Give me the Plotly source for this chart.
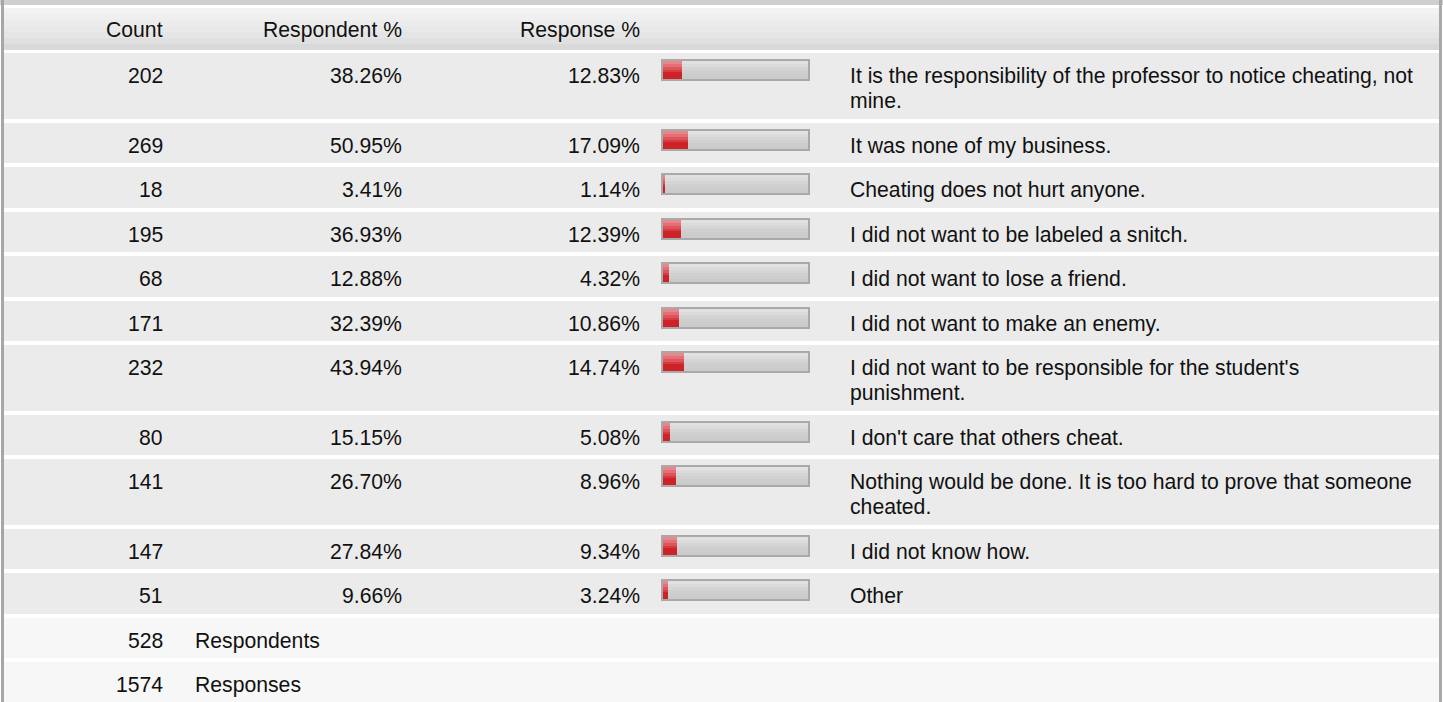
import plotly.graph_objects as go

# Данные таблицы
counts = [202, 269, 18, 195, 68, 171, 232, 80, 141, 147, 51]
respondent_pct = [38.26, 50.95, 3.41, 36.93, 12.88, 32.39, 43.94, 15.15, 26.70, 27.84, 9.66]
response_pct = [12.83, 17.09, 1.14, 12.39, 4.32, 10.86, 14.74, 5.08, 8.96, 9.34, 3.24]
labels = [
    "It is the responsibility of the professor to notice cheating, not\nmine.",
    "It was none of my business.",
    "Cheating does not hurt anyone.",
    "I did not want to be labeled a snitch.",
    "I did not want to lose a friend.",
    "I did not want to make an enemy.",
    "I did not want to be responsible for the student's\npunishment.",
    "I don't care that others cheat.",
    "Nothing would be done. It is too hard to prove that someone\ncheated.",
    "I did not know how.",
    "Other",
]
headers = ["Count", "Respondent %", "Response %"]
total_values = [528, 1574]
total_names = ["Respondents", "Responses"]

W, H = 1443, 702
FONT = dict(family="Arial, Liberation Sans, sans-serif", size=21.2, color="#111111")

# Геометрия строк (в пикселях, целые значения — без швов)
pos = [53.0]
for lab in labels + total_names:
    pos.append(pos[-1] + (69.5 if "\n" in lab else 44.5))
pos = [int(p + 0.5) for p in pos]
row_tops = pos[:len(labels)]
total_tops = pos[len(labels):len(labels) + 2]
row_heights = [pos[i + 1] - pos[i] - 4 for i in range(len(labels) + 2)]

shapes = []
annotations = []

def rect(x0, y0, x1, y1, color):
    shapes.append(dict(type="rect", xref="x", yref="y", x0=x0, x1=x1, y0=y0, y1=y1,
                       fillcolor=color, line=dict(width=0), layer="below"))

def text(x, y, s, anchor="right"):
    annotations.append(dict(x=x, y=y, xref="x", yref="y", text=s, showarrow=False,
                            xanchor=anchor, yanchor="middle", font=FONT))

# Рамка и шапка
rect(0, 0, W, 5, "#cfcfcf")
header_cols = ["#f2f2f2", "#efefef", "#ececec", "#e9e9e9", "#e5e5e5", "#e0e0e0", "#d9d9d9"]
for i, c in enumerate(header_cols):
    rect(4, 8 + i * 6, 1439, 8 + (i + 1) * 6, c)
for x_r, h in zip([165, 404, 642], headers):
    text(x_r, 29.5, h)

# Строки ответов
track_cols = ["#e1e1e1", "#dbdbdb", "#d5d5d5", "#d0d0d0", "#cdcdcd", "#cbcbcb"]
for i, top in enumerate(row_tops):
    rect(4, top, 1439, top + row_heights[i], "#ebebeb")
    text(165, top + 22.5, str(counts[i]))
    text(404, top + 22.5, f"{respondent_pct[i]:.2f}%")
    text(642, top + 22.5, f"{response_pct[i]:.2f}%")
    for j, line in enumerate(labels[i].split("\n")):
        text(848, top + 22.5 + j * 25, line, anchor="left")
    # серая шкала
    rect(661, top + 6, 810, top + 28, "#a9a9a9")
    for k, c in enumerate(track_cols):
        rect(663, top + 8 + k * 3, 808, top + 8 + (k + 1) * 3, c)

# Итоги
for k, (top, v, n) in enumerate(zip(total_tops, total_values, total_names)):
    rect(4, top, 1439, top + row_heights[len(labels) + k], "#f7f7f7")
    text(165, top + 22.5, str(v))
    text(193, top + 22.5, n, anchor="left")

# Боковые границы
rect(1, 0, 4, H, "#a6a6a6")
rect(1439, 0, 1442, H, "#a9a9a9")

fig = go.Figure()

# Красные полосы (градиент слоями)
red_layers = [(0, 18, "#cd2228"), (0, 3, "#e9868b"), (3, 6, "#e46f75"), (6, 9, "#dd555b"), (9, 11, "#d63b41")]
for a, b, c in red_layers:
    fig.add_bar(x=response_pct, y=[t + 8 + (a + b) / 2 for t in row_tops], width=b - a,
                orientation="h", base=0, marker=dict(color=c, line=dict(width=0)),
                xaxis="x2", yaxis="y", hoverinfo="skip", showlegend=False)

fig.update_layout(
    width=W, height=H, margin=dict(l=0, r=0, t=0, b=0, pad=0),
    paper_bgcolor="white", plot_bgcolor="rgba(0,0,0,0)", barmode="overlay", bargap=0,
    xaxis=dict(range=[0, W], visible=False, fixedrange=True),
    xaxis2=dict(range=[0, 100], domain=[663 / W, 808 / W], anchor="y", visible=False, fixedrange=True),
    yaxis=dict(range=[H, 0], visible=False, fixedrange=True),
    shapes=shapes, annotations=annotations, showlegend=False,
)

fig.write_html("out.html", config=dict(displayModeBar=False),
               post_script="document.body.style.margin='0';document.body.style.overflow='hidden';")
